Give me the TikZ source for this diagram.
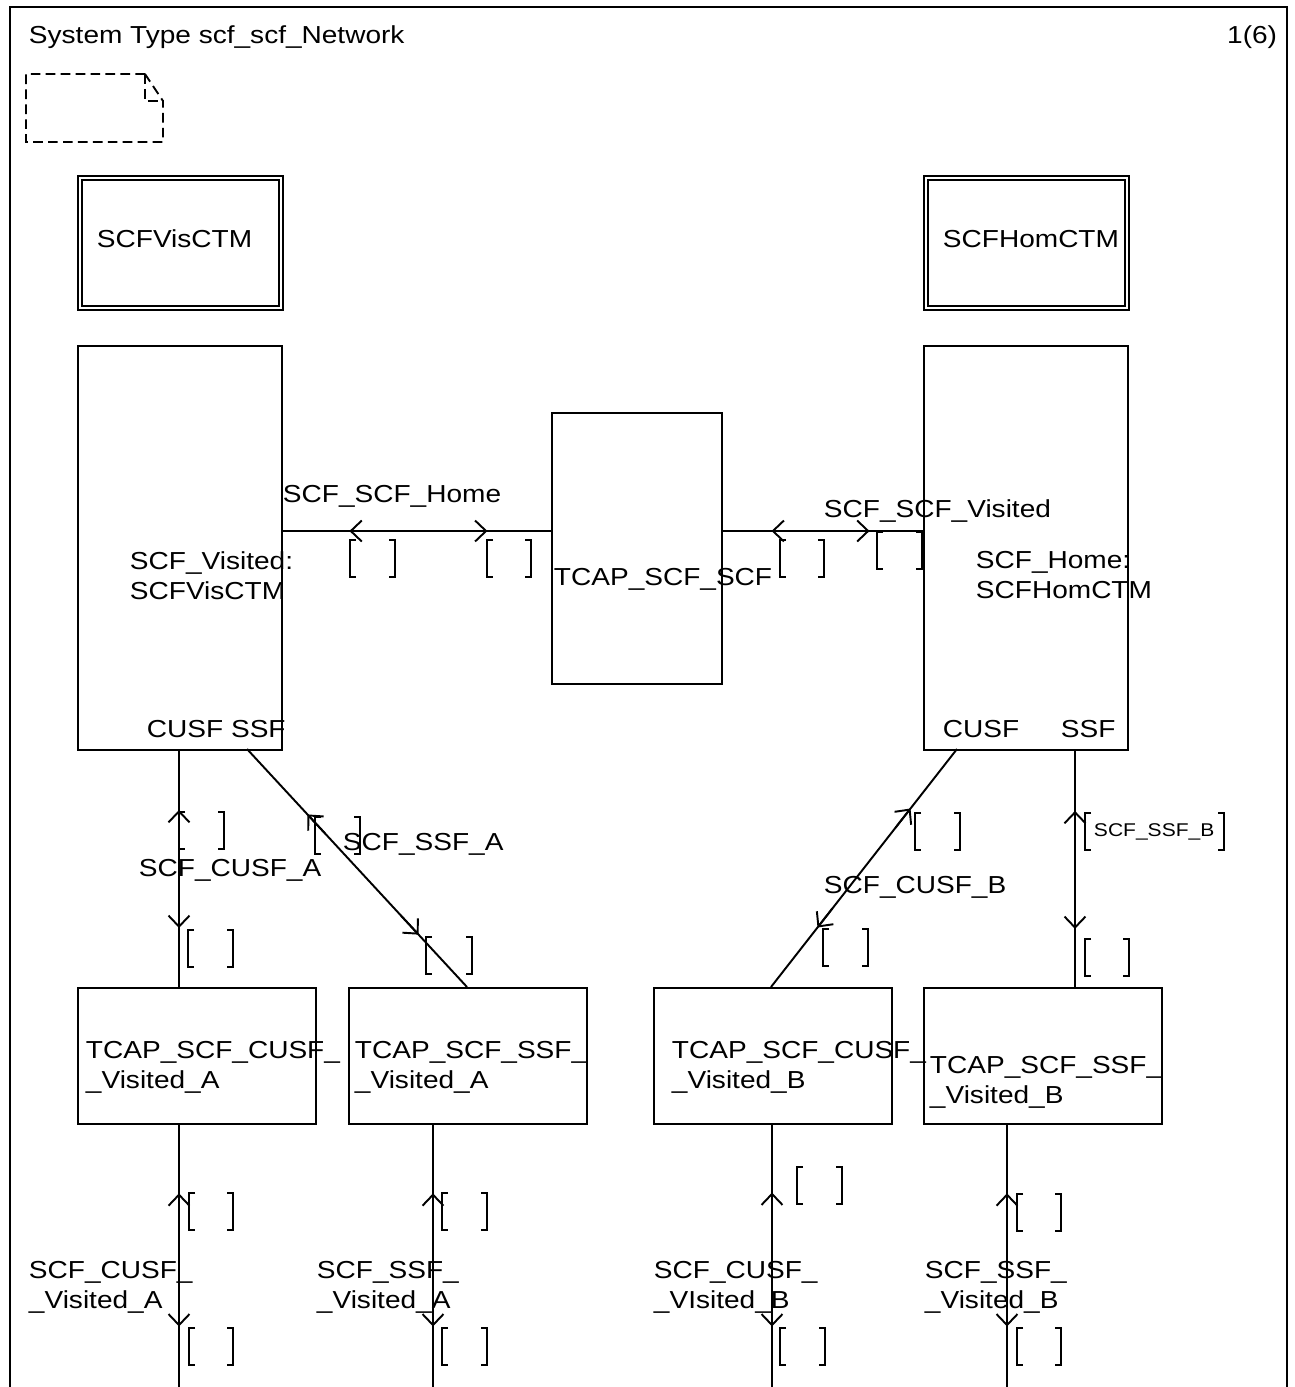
\documentclass[tikz,border=0pt]{standalone}
\usepackage{fontspec}
\setmainfont{Liberation Sans}[FakeStretch=1.14]
\usetikzlibrary{arrows.meta, calc, positioning}

\tikzset{
  blk/.style={draw, inner sep=0, anchor=north west},
  lbl/.style={anchor=base west, inner sep=0, align=left},
  barb/.style={-{Straight Barb[length=0.22cm, width=0.42cm]}},
  pics/sl/.style={code={\draw (6,0) -| (0,37) -- (6,37) (#1-6,0) -| (#1,37) -- (#1-6,37);}},
}

\begin{document}
\begin{tikzpicture}[x=0.02cm, y=-0.02cm, line width=1.1pt, font=\fontsize{14pt}{17pt}\selectfont]
\useasboundingbox (0,0) rectangle (1295,1387);
% frame and heading
\draw (10,1387) -- (10,7) -- (1287,7) -- (1287,1387);
\node[lbl] (title) at (28,43) {System Type scf\_scf\_Network};
\node[anchor=base east, inner sep=0] (page) at (1278,43) {1(6)};
\draw[dash pattern=on 5.5pt off 3pt] (145,74) -- (26,74) -- (26,142) -- (163,142) -- (163,101) -- cycle;
\draw[dash pattern=on 5.5pt off 3pt] (145,74) -- (145,101) -- (163,101);

% block types
\node[blk, minimum width=4.1cm, minimum height=2.68cm] (visctm) at (77,175) {};
\node[blk, minimum width=4.1cm, minimum height=2.68cm] (homctm) at (923,175) {};
\foreach \n in {visctm, homctm}
  \draw[line width=0.8pt] ([shift={(5,5)}]\n.north west) rectangle ([shift={(-5,-5)}]\n.south east);
\node[lbl] (tvisctm) at (96,247) {SCFVisCTM};
\node[lbl] (thomctm) at (942,247) {SCFHomCTM};

% block instances (multi-line labels sit on their last baseline)
\node[blk, minimum width=4.08cm, minimum height=8.08cm] (scfvis) at (77,345) {};
\node[blk, minimum width=4.08cm, minimum height=8.08cm] (scfhom) at (923,345) {};
\node[blk, minimum width=3.4cm, minimum height=5.42cm] (tcapscf) at (551,412) {};
\node[lbl] (tscfvis) at (129,599) {SCF\_Visited:\\SCFVisCTM};
\node[lbl] (tscfhom) at (975,598) {SCF\_Home:\\SCFHomCTM};
\node[lbl] (ttcapscf) at (553,585) {TCAP\_SCF\_SCF};
\node[lbl] (gvis) at (146,737) {CUSF SSF};
\node[lbl] (gcusf) at (942,737) {CUSF};
\node[lbl] (gssf) at (1060,737) {SSF};

\foreach \n/\x in {cusfa/77, ssfa/348, cusfb/653, ssfb/923}
  \node[blk, minimum width=4.76cm, minimum height=2.72cm] (\n) at (\x,987) {};
\node[lbl] (tcusfa) at (85,1088) {TCAP\_SCF\_CUSF\_\\\_Visited\_A};
\node[lbl] (tssfa) at (354,1088) {TCAP\_SCF\_SSF\_\\\_Visited\_A};
\node[lbl] (tcusfb) at (671,1088) {TCAP\_SCF\_CUSF\_\\\_Visited\_B};
\node[lbl] (tssfb) at (929,1103) {TCAP\_SCF\_SSF\_\\\_Visited\_B};

% channel end points
\coordinate (hv) at (scfvis.east |- 0,531);
\coordinate (ht1) at (tcapscf.west |- 0,531);
\coordinate (ht2) at (tcapscf.east |- 0,531);
\coordinate (hh) at (scfhom.west |- 0,531);
\coordinate (pv1) at (179,749);  \coordinate (pa1) at (179,987);
\coordinate (pv2) at (247,749);  \coordinate (pa2) at (467,987);
\coordinate (ph1) at (957,749);  \coordinate (pb1) at (771,987);
\coordinate (ph2) at (1075,749); \coordinate (pb2) at (1075,987);
\foreach \n/\x in {cusfa/179, ssfa/433, cusfb/772, ssfb/1007}{
  \coordinate (u\n) at (\n.south -| \x,0);
  \coordinate (e\n) at (\x,1387);
}

% channels with their two directions
\foreach \a/\b/\u/\d in {hv/ht1/0.248/0.763, ht2/hh/0.243/0.733,
    pv1/pa1/0.256/0.752, pv2/pa2/0.275/0.78, ph1/pb1/0.25/0.75, ph2/pb2/0.26/0.756,
    ucusfa/ecusfa/0.261/0.769, ussfa/essfa/0.261/0.769,
    ucusfb/ecusfb/0.258/0.769, ussfb/essfb/0.261/0.769}{
  \draw (\a) -- (\b);
  \draw[barb] ($(\a)!\u+0.08!(\b)$) -- ($(\a)!\u!(\b)$);
  \draw[barb] ($(\a)!\d-0.08!(\b)$) -- ($(\a)!\d!(\b)$);
}

% signal lists
\foreach \p/\w in {(350,540)/45, (487,540)/44, (780,540)/44, (877,532)/45,
    (179,812)/45, (188,930)/45, (315,817)/45, (426,937)/46,
    (915,813)/45, (823,929)/45, (1085,813)/139, (1085,939)/44,
    (189,1193)/44, (189,1328)/44, (442,1193)/45, (442,1328)/45,
    (797,1167)/45, (780,1328)/45, (1017,1194)/44, (1017,1328)/44}
  \pic at \p {sl=\w};
\node[lbl, font=\fontsize{10.5pt}{12pt}\selectfont] (lssfb) at (1093,836) {SCF\_SSF\_B};

% channel names
\node[lbl] (lhome) at (282,502) {SCF\_SCF\_Home};
\node[lbl] (lvisited) at (823,517) {SCF\_SCF\_Visited};
\node[lbl] (lcusfa) at (138,876) {SCF\_CUSF\_A};
\node[lbl] (lssfa) at (342,850) {SCF\_SSF\_A};
\node[lbl] (lcusfb) at (823,893) {SCF\_CUSF\_B};
\node[lbl] (lvcusfa) at (28,1308) {SCF\_CUSF\_\\\_Visited\_A};
\node[lbl] (lvssfa) at (316,1308) {SCF\_SSF\_\\\_Visited\_A};
\node[lbl] (lvcusfb) at (653,1308) {SCF\_CUSF\_\\\_VIsited\_B};
\node[lbl] (lvssfb) at (924,1308) {SCF\_SSF\_\\\_Visited\_B};
\end{tikzpicture}
\end{document}
